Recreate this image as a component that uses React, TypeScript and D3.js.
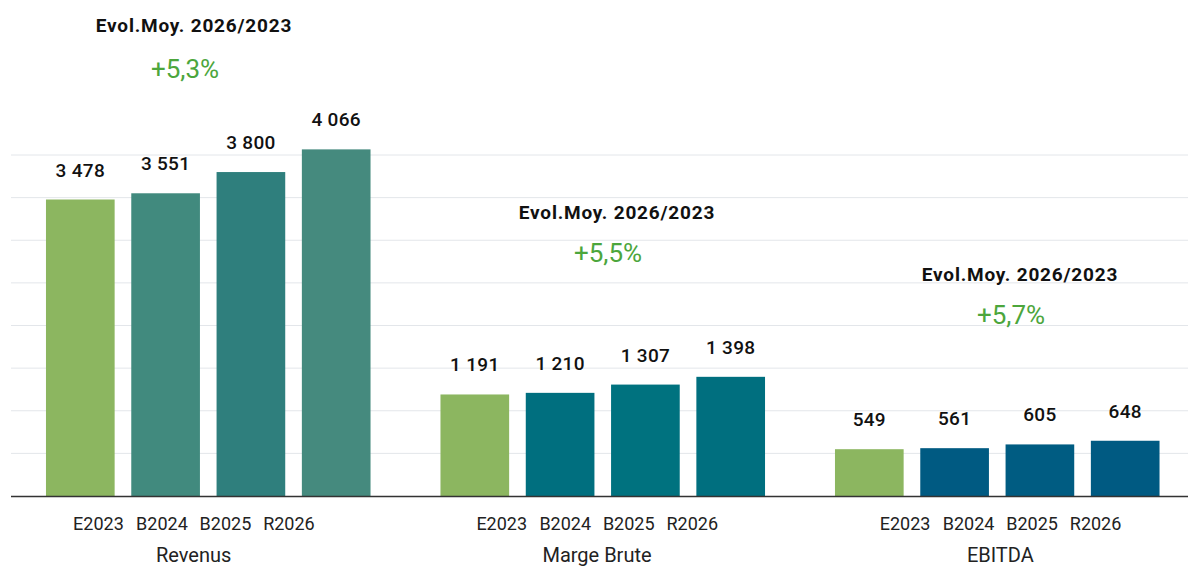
import { useEffect, useRef } from "react"
import * as d3 from "d3"

const groups = ["Revenus", "Marge Brute", "EBITDA"]
const years = ["E2023", "B2024", "B2025", "R2026"]

const revenus = [3478, 3551, 3800, 4066]
const margeBrute = [1191, 1210, 1307, 1398]
const ebitda = [549, 561, 605, 648]

const evolTitle = "Evol.Moy. 2026/2023"
const evolValues = ["+5,3%", "+5,5%", "+5,7%"]

const groupColors = [
  ["#8cb660", "#418a7e", "#2f7f7d", "#458a7e"],
  ["#8cb660", "#006f7f", "#00727f", "#006f7f"],
  ["#8cb660", "#005a82", "#005c82", "#005a82"],
]

const fmt = (v: number) => d3.format(",")(v).replace(/,/g, " ")

export default function App() {
  const svgRef = useRef<SVGSVGElement>(null)

  useEffect(() => {
    if (!svgRef.current) return
    const svg = d3.select(svgRef.current)
    svg.selectAll("*").remove()

    const W = 1188
    const H = 567
    const baseY = 496
    const font = "Roboto, 'DejaVu Sans', sans-serif"

    const series = [revenus, margeBrute, ebitda]

    const y = d3.scaleLinear().domain([0, 4000]).range([baseY, 155])
    const x0 = d3.scaleBand<string>().domain(groups).range([11, 1194.5])
    const x1 = d3
      .scaleBand<string>()
      .domain(years)
      .range([0, x0.bandwidth()])
      .paddingInner(0.195)
      .paddingOuter(0.41)

    // label positions (category axis is a bit tighter than the bars)
    const lx0 = d3.scaleBand<string>().domain(groups).range([-8, 1202])
    const lx1 = d3.scaleBand<string>().domain(years).range([-127, 127])

    // grid
    svg
      .append("g")
      .selectAll("line")
      .data(y.ticks(8).filter((d) => d > 0))
      .enter()
      .append("line")
      .attr("x1", 11)
      .attr("x2", W)
      .attr("y1", (d) => y(d))
      .attr("y2", (d) => y(d))
      .attr("stroke", "#e3e6ea")
      .attr("stroke-width", 1)

    // bars
    groups.forEach((gName, gi) => {
      const g = svg.append("g").attr("transform", `translate(${x0(gName)},0)`)
      g.selectAll("rect")
        .data(series[gi])
        .enter()
        .append("rect")
        .attr("x", (_, i) => x1(years[i]) as number)
        .attr("y", (d) => y(d))
        .attr("width", x1.bandwidth())
        .attr("height", (d) => baseY - y(d))
        .attr("fill", (_, i) => groupColors[gi][i])

      g.selectAll("text.val")
        .data(series[gi])
        .enter()
        .append("text")
        .attr("class", "val")
        .attr("x", (_, i) => (x1(years[i]) as number) + x1.bandwidth() / 2)
        .attr("y", (d) => y(d) - 23)
        .attr("text-anchor", "middle")
        .style("font-family", font)
        .style("font-size", "19px")
        .style("font-weight", 500)
        .style("letter-spacing", "0.3px")
        .style("fill", "#111")
        .text((d) => fmt(d))

      const lc = (lx0(gName) as number) + lx0.bandwidth() / 2
      svg
        .append("g")
        .selectAll("text")
        .data(years)
        .enter()
        .append("text")
        .attr("x", (d) => lc + (lx1(d) as number) + lx1.bandwidth() / 2)
        .attr("y", 530)
        .attr("text-anchor", "middle")
        .style("font-family", font)
        .style("font-size", "18px")
        .style("fill", "#222")
        .text((d) => d)

      svg
        .append("text")
        .attr("x", lc)
        .attr("y", 562)
        .attr("text-anchor", "middle")
        .style("font-family", font)
        .style("font-size", "20px")
        .style("fill", "#222")
        .text(gName)
    })

    // baseline
    svg
      .append("line")
      .attr("x1", 11)
      .attr("x2", W)
      .attr("y1", baseY + 0.5)
      .attr("y2", baseY + 0.5)
      .attr("stroke", "#333")
      .attr("stroke-width", 1.5)

    // evolution annotations
    const notes = [
      { x: 194, ty: 32, py: 78 },
      { x: 617, ty: 219, py: 262 },
      { x: 1020, ty: 281, py: 324 },
    ]
    notes.forEach((n, i) => {
      svg
        .append("text")
        .attr("x", n.x)
        .attr("y", n.ty)
        .attr("text-anchor", "middle")
        .style("font-family", font)
        .style("font-size", "19px")
        .style("font-weight", 700)
        .style("letter-spacing", "0.8px")
        .style("fill", "#111")
        .text(evolTitle)
      svg
        .append("text")
        .attr("x", n.x - 9)
        .attr("y", n.py)
        .attr("text-anchor", "middle")
        .style("font-family", font)
        .style("font-size", "26px")
        .style("fill", "#4ca63c")
        .text(evolValues[i])
    })

    svg.attr("width", W).attr("height", H)
  }, [])

  return (
    <div style={{ position: "absolute", left: 0, top: 0 }}>
      <svg ref={svgRef} width={1188} height={567} style={{ display: "block", background: "#fff" }} />
    </div>
  )
}
